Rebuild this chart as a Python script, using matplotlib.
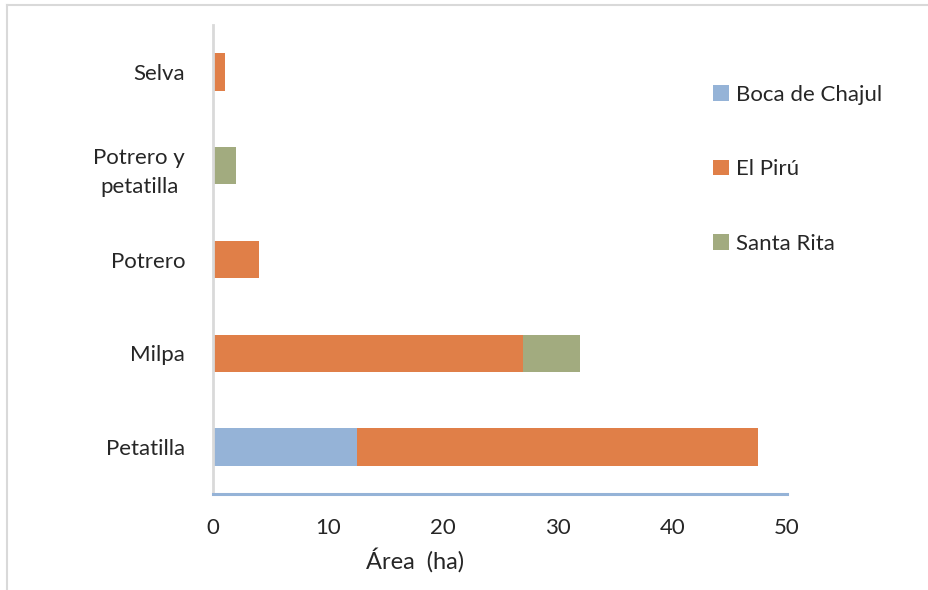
import matplotlib.pyplot as plt
import numpy as np

plt.rcParams['font.family'] = ['Lato', 'DejaVu Sans']

# land use classes, bottom to top
categories = ["Petatilla", "Milpa", "Potrero", "Potrero y\npetatilla", "Selva"]
sites = ["Boca de Chajul", "El Pirú", "Santa Rita"]
boca_de_chajul = [12.5, 0, 0, 0, 0]
el_piru = [35, 27, 4, 0, 1]
santa_rita = [0, 5, 0, 2, 0]
colors = ["#95b3d7", "#e07f48", "#a2ab7f"]
x_ticks = [0, 10, 20, 30, 40, 50]

fig = plt.figure(figsize=(9.29, 5.90), dpi=100)
ax = fig.add_axes([0.2293, 0.1627, 0.6179, 0.7949])

y = np.arange(len(categories))
left = np.zeros(len(categories))
handles = []
for name, vals, c in zip(sites, [boca_de_chajul, el_piru, santa_rita], colors):
    vals = np.array(vals, dtype=float)
    h = ax.barh(y, vals, left=left, height=0.4, color=c, label=name)
    handles.append(h)
    left += vals

ax.set_xlim(0, 50)
ax.set_ylim(-0.5, 4.5)
ax.set_xticks(x_ticks)
ax.set_yticks(y)
ax.set_yticklabels(categories, multialignment='center', linespacing=1.6)
ax.tick_params(axis='both', length=0, labelsize=16, colors="#262626")
ax.tick_params(axis='y', pad=20)
ax.tick_params(axis='x', pad=17)

for s in ["top", "right"]:
    ax.spines[s].set_visible(False)
ax.spines["left"].set_color("#d9d9d9")
ax.spines["left"].set_linewidth(2)
ax.spines["bottom"].set_color("#95b3d7")
ax.spines["bottom"].set_linewidth(2.2)

fig.text(415 / 929, 1 - 560 / 590, "Área  (ha)", ha="center", va="center",
         fontsize=17, color="#262626")

leg = fig.legend(handles=handles, loc="upper left",
                 bbox_to_anchor=(693 / 929, 1 - 65 / 590), frameon=False,
                 fontsize=16, handlelength=0.7, handleheight=0.7,
                 handletextpad=0.35, labelspacing=2.45, labelcolor="#262626")

# outer chart border
fig.add_artist(plt.Line2D([7.5 / 929, 7.5 / 929], [0, 1 - 5 / 590],
                          transform=fig.transFigure, color="#d9d9d9", lw=1.5))
fig.add_artist(plt.Line2D([7.5 / 929, 1], [1 - 5 / 590, 1 - 5 / 590],
                          transform=fig.transFigure, color="#d9d9d9", lw=1.5))

fig.savefig("out.png", dpi=100)
